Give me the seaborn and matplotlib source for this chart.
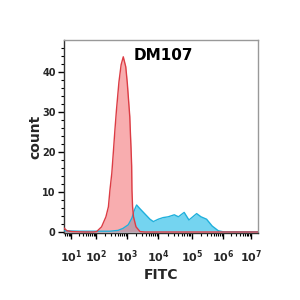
import numpy as np
import pandas as pd
import matplotlib
matplotlib.use("Agg")
import matplotlib.pyplot as plt
import seaborn as sns

# ---- data (x in log10 decades of FITC intensity, y = count) ----
red_x = [0.72, 0.84, 1.04, 1.56, 1.90, 2.02, 2.18, 2.32, 2.40, 2.45, 2.51, 2.56, 2.61,
         2.66, 2.70, 2.74, 2.81, 2.88, 2.96, 3.01, 3.05, 3.09, 3.11, 3.13, 3.15, 3.16, 3.18,
         3.21, 3.29, 3.42, 3.58, 7.25]
red_y = [1.0, 0.3, 0.1, 0.0, 0.0, 0.1, 1.3, 3.8, 6.3, 10.5, 14.7, 20.0, 25.5,
         30.5, 34.0, 37.5, 41.8, 43.8, 41.3, 37.2, 33.0, 28.8, 24.7, 21.0, 16.5, 10.5, 6.3,
         3.8, 1.3, 0.1, 0.0, 0.0]

blue_x = [0.72, 1.36, 2.13, 2.45, 2.71, 2.87, 3.04, 3.16, 3.24, 3.31, 3.42, 3.58, 3.74, 3.85,
          4.01, 4.15, 4.30, 4.48, 4.60, 4.77, 4.91, 5.15, 5.29, 5.47, 5.65, 5.85, 6.01, 6.61, 7.25]
blue_y = [0.3, 0.2, 0.2, 0.2, 0.4, 0.9, 1.8, 3.5, 5.5, 6.75, 5.8, 4.5, 3.2, 2.6,
          3.2, 3.6, 3.8, 4.3, 3.8, 4.9, 3.0, 4.6, 3.8, 3.2, 1.5, 0.3, 0.05, 0.05, 0.05]

decades = [1, 2, 3, 4, 5, 6, 7]
tick_labels = [r"$\mathbf{10^{%d}}$" % d for d in decades]
y_ticks = [0, 10, 20, 30, 40]
title = "DM107"

# ---- biexponential-like display scale (decade -> screen position) ----
dec_pos = np.array(decades, float)
pix_pos = np.array([71, 96, 127, 158, 192, 223, 251], float)


def _interp_lin(x, xp, fp):
    x = np.asarray(x, dtype=float)
    shape = x.shape
    x = np.atleast_1d(x).ravel()
    y = np.interp(x, xp, fp)
    lo = x < xp[0]
    hi = x > xp[-1]
    y[lo] = fp[0] + (x[lo] - xp[0]) * (fp[1] - fp[0]) / (xp[1] - xp[0])
    y[hi] = fp[-1] + (x[hi] - xp[-1]) * (fp[-1] - fp[-2]) / (xp[-1] - xp[-2])
    return y.reshape(shape)


def fwd(x):
    return _interp_lin(x, dec_pos, pix_pos)


def inv(p):
    return _interp_lin(p, pix_pos, dec_pos)


df = pd.concat([
    pd.DataFrame({"FITC": blue_x, "count": blue_y, "sample": "stained"}),
    pd.DataFrame({"FITC": red_x, "count": red_y, "sample": "control"}),
])

sns.set_style("white")
fig = plt.figure(figsize=(3, 3), dpi=100)
ax = fig.add_axes([64 / 300, 1 - 233 / 300, 194 / 300, 193 / 300])
ax.set_xscale("function", functions=(fwd, inv))

ax.fill_between(blue_x, blue_y, 0, color="#45c6ec", alpha=0.75, linewidth=0, zorder=2)
ax.fill_between(red_x, red_y, 0, color="#f4777b", alpha=0.6, linewidth=0, zorder=3)
sns.lineplot(data=df, x="FITC", y="count", hue="sample",
             palette={"stained": "#1fb0dc", "control": "#dc3c44"},
             linewidth=1.0, legend=False, ax=ax, zorder=4, estimator=None, sort=False)

ax.set_xlim(0.72, 7.25)
ax.set_ylim(-0.25, 48)

ax.set_xticks(decades)
ax.set_xticklabels(tick_labels, fontsize=8)
minor = [n + np.log10(k) for n in range(0, 8) for k in range(2, 10)]
minor = [m for m in minor if 0.72 < m < 7.25]
ax.set_xticks(minor, minor=True)

ax.set_yticks(y_ticks)
ax.set_yticklabels([str(v) for v in y_ticks], fontsize=7, fontweight="bold")
ax.set_yticks(np.arange(0, 48, 2), minor=True)

ax.tick_params(axis="both", which="major", direction="out", length=4, width=1, color="black",
               bottom=True, left=True)
ax.tick_params(axis="both", which="minor", direction="out", length=2.5, width=0.8, color="black",
               bottom=True, left=True)
ax.tick_params(axis="x", which="major", pad=7)
ax.tick_params(axis="y", which="major", pad=2)

for s in ["top", "right"]:
    ax.spines[s].set_color("#999999")
    ax.spines[s].set_linewidth(1.0)
for s in ["left", "bottom"]:
    ax.spines[s].set_color("#333333")
    ax.spines[s].set_linewidth(1.0)

ax.set_xlabel("FITC", fontsize=10, fontweight="bold", labelpad=2)
ax.set_ylabel("count", fontsize=10, fontweight="bold", labelpad=0)
ax.text(0.36, 0.92, title, transform=ax.transAxes, fontsize=11, fontweight="bold",
        ha="left", va="center", color="black")

fig.savefig("out.png", dpi=100)
